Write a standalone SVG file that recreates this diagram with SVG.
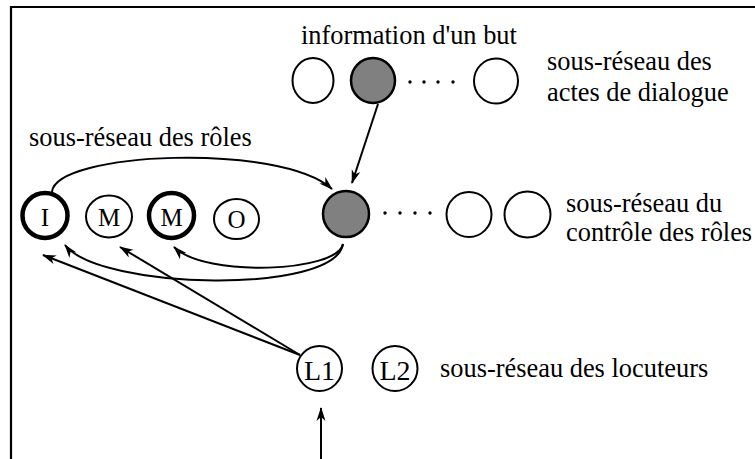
<svg xmlns="http://www.w3.org/2000/svg" width="755" height="459" viewBox="0 0 755 459">
<defs>
<style>
.t{font-family:"Liberation Serif","DejaVu Serif",serif;font-size:26.4px;fill:#000}
.lbl{font-family:"Liberation Serif","DejaVu Serif",serif;font-size:25px;fill:#000;text-anchor:middle}
.n{fill:#fff;stroke:#000;stroke-width:2}
.nk{fill:#fff;stroke:#000;stroke-width:4.5}
.g{fill:#808080;stroke:#000;stroke-width:2.5}
.c{fill:none;stroke:#000;stroke-width:2}
.dot{fill:#000}
</style>
<marker id="ah" viewBox="0 0 14 10" refX="13" refY="5" markerWidth="14" markerHeight="10" orient="auto" markerUnits="userSpaceOnUse">
<path d="M0,0.5 L14,5 L0,9.5 L4,5 Z" fill="#000"/>
</marker>
</defs>
<rect width="755" height="459" fill="#fff"/>
<path d="M11,459 L11,7 L755,7" fill="none" stroke="#000" stroke-width="2.2"/>

<g id="texts">
<text class="t" x="301" y="44">information d'un but</text>
<text class="t" x="547" y="70">sous-réseau des</text>
<text class="t" x="547" y="101">actes de dialogue</text>
<text class="t" x="29" y="146">sous-réseau des rôles</text>
<text class="t" x="566" y="212">sous-réseau du</text>
<text class="t" x="566" y="241">contrôle des rôles</text>
<text class="t" x="440" y="377">sous-réseau des locuteurs</text>
</g>

<g id="connectors">
<line class="c" x1="378" y1="104" x2="352" y2="183" marker-end="url(#ah)"/>
<path class="c" d="M52,192 C55,152 280,142 332,189" marker-end="url(#ah)"/>
<path class="c" d="M343,244 C338,272 205,278 174,247" marker-end="url(#ah)"/>
<path class="c" d="M343,244 C335,295 100,290 65,245" marker-end="url(#ah)"/>
<line class="c" x1="300" y1="355" x2="43" y2="255" marker-end="url(#ah)"/>
<line class="c" x1="300" y1="355" x2="120" y2="247" marker-end="url(#ah)"/>
<line class="c" x1="321" y1="459" x2="321" y2="408" marker-end="url(#ah)"/>
</g>

<g id="dots">
<circle class="dot" cx="410" cy="82" r="1.7"/>
<circle class="dot" cx="424" cy="82" r="1.7"/>
<circle class="dot" cx="438" cy="82" r="1.7"/>
<circle class="dot" cx="453" cy="82" r="1.7"/>
<circle class="dot" cx="385" cy="213" r="1.7"/>
<circle class="dot" cx="400" cy="213" r="1.7"/>
<circle class="dot" cx="415" cy="213" r="1.7"/>
<circle class="dot" cx="430" cy="213" r="1.7"/>
</g>

<g id="node-da1"><ellipse class="n" cx="313" cy="80.5" rx="20.5" ry="22.5"/></g>
<g id="node-da2"><ellipse class="g" cx="373" cy="80.5" rx="22" ry="22.5"/></g>
<g id="node-da3"><ellipse class="n" cx="496" cy="81" rx="22" ry="22.5"/></g>

<g id="node-I"><circle class="nk" cx="45" cy="215.5" r="22.5"/><text class="lbl" x="45" y="226">I</text></g>
<g id="node-M1"><ellipse class="n" cx="109" cy="216.5" rx="23" ry="21"/><text class="lbl" x="109" y="226">M</text></g>
<g id="node-M2"><circle class="nk" cx="171.5" cy="215.5" r="22.5"/><text class="lbl" x="171.5" y="226">M</text></g>
<g id="node-O"><ellipse class="n" cx="236.5" cy="219" rx="22.5" ry="20"/><text class="lbl" x="236.5" y="228">O</text></g>

<g id="node-ctl1"><circle class="g" cx="346" cy="214" r="23"/></g>
<g id="node-ctl2"><circle class="n" cx="469" cy="214.5" r="22.5" stroke-width="2.5"/></g>
<g id="node-ctl3"><circle class="n" cx="527.5" cy="214.5" r="23"/></g>

<g id="node-L1"><circle class="n" cx="319.5" cy="368.5" r="22.5"/><text class="lbl" x="319.5" y="380" style="font-size:28px">L1</text></g>
<g id="node-L2"><circle class="n" cx="395" cy="368.5" r="22.5"/><text class="lbl" x="395" y="380" style="font-size:28px">L2</text></g>
</svg>
